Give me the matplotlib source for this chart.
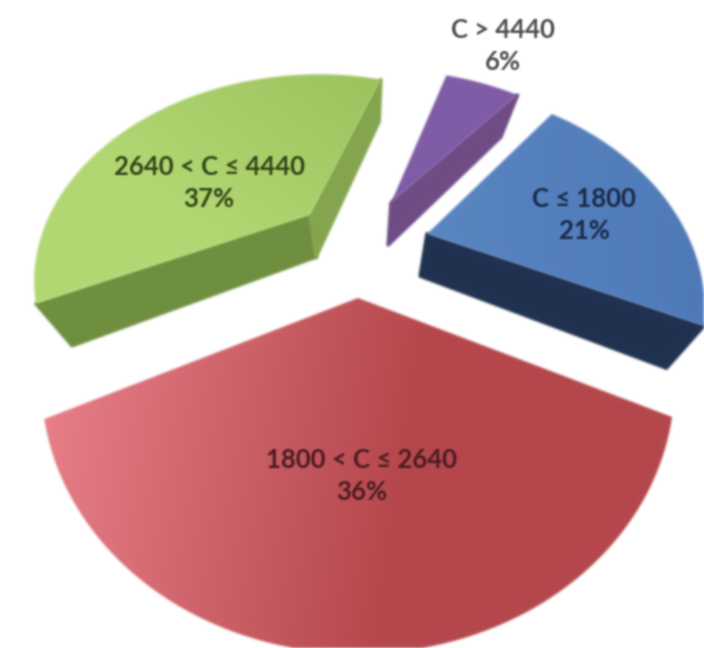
import numpy as np
import matplotlib
matplotlib.use("Agg")
from matplotlib import pyplot as plt
from matplotlib.colors import to_rgb
from matplotlib.patches import Polygon

plt.rcParams['font.family'] = ['Lato', 'DejaVu Sans']

# clockwise from the blue slice
labels = ["C ≤ 1800", "1800 < C ≤ 2640", "2640 < C ≤ 4440", "C > 4440"]
shares = [21, 36, 37, 6]

START_ANGLE = 39.4
W, H = 704, 648
# perspective of the pie plane
OX, OY, SX, SY, K = 365.0, 264.0, 288.0, 236.0, 0.3
DEPTH, SHRINK = 42.0, 0.11

apex = [(427, 234), (358, 298), (310, 215), (391, 203)]
scale_x = [0.915, 1.0, 0.94, 0.92]
scale_y = [0.83, 0.95, 0.83, 0.8]
explode = [0.2, 0.14, 0.2, 0.2]
top_light = [("#5a86c2", "#4f7ab8"), ("#ee8590", "#b5474c"), ("#b2d873", "#95ba56"), ("#7f5ca6", "#7f5ca6")]
grad_dir = [(1, 0), (1, 0.15), (0.6, -0.8), (1, 0)]
grad_span = [(420, 704), (60, 480), (-60, 250), (390, 520)]
side_col = ["#20324f", None, "#6f8f3f", "#6f4d85"]
side2_col = [None, None, "#85a64e", None]
text_pos = [(584, 215), (362, 476), (209, 183), (503, 46)]
text_col = ["#1b2a48", "#4a1d22", "#33461a", "#4d4d4d"]


def smooth(img, sigma):
    pad = 6
    x = np.arange(-pad, pad + 1)
    g = np.exp(-x ** 2 / (2 * sigma ** 2))
    g = g / g.sum()
    out = np.zeros((img.shape[0] + 2 * pad, img.shape[1] + 2 * pad, img.shape[2]))
    out[pad:-pad, pad:-pad] = img
    # blur colour weighted by alpha, otherwise the edges get a pale fringe
    out[..., :3] = out[..., :3] * out[..., 3:]
    out = np.apply_along_axis(lambda m: np.convolve(m, g, mode='same'), 0, out)
    out = np.apply_along_axis(lambda m: np.convolve(m, g, mode='same'), 1, out)
    a = np.maximum(out[..., 3:], 1e-4)
    out[..., :3] = np.clip(out[..., :3] / a, 0, 1)
    return out, -pad, -pad


def blur(img, dpi):
    # soft look of the scan
    return smooth(img, 1.2)


def blurText(img, dpi):
    return smooth(img, 0.9)


def project(u, v):
    w = 1 + K * v
    return OX + SX * u / w, OY - SY * v / w


def wedgeTop(a0, a1, target, e, sx, sy):
    mid = np.radians((a0 + a1) / 2)
    du, dv = e * np.sin(mid), e * np.cos(mid)
    t = np.radians(np.linspace(a0, a1, 80))
    x, y = project(du + np.sin(t), dv + np.cos(t))
    x0, y0 = project(du, dv)
    x = target[0] + sx * (x - x0)
    y = target[1] + sy * (y - y0)
    return np.column_stack([np.r_[target[0], x], np.r_[target[1], y]])


def toBase(pts):
    # the bottom of a slice is pulled towards the middle of the pie
    return np.column_stack([pts[:, 0] + (OX - pts[:, 0]) * SHRINK, pts[:, 1] + DEPTH])


def addSide(ax, top, base, end, col):
    # stroke in the same colour runs under the top face, no white seam after the blur
    p = Polygon([top[0], top[end], base[end], base[0]], closed=True, fc=col, ec=col,
                lw=2.5, joinstyle='round', zorder=2)
    p.set_agg_filter(blur)
    ax.add_patch(p)


def gradient(ax, pts, cols, direction, span):
    xx, yy = np.meshgrid(np.arange(W) + 0.5, np.arange(H) + 0.5)
    t = (xx * direction[0] + yy * direction[1] - span[0]) / (span[1] - span[0])
    t = np.clip(t, 0, 1)[..., None]
    img = (1 - t) * np.array(to_rgb(cols[0])) + t * np.array(to_rgb(cols[1]))
    im = ax.imshow(img, extent=(0, W, H, 0), aspect='auto', zorder=3)
    im.set_clip_path(Polygon(pts, closed=True, transform=ax.transData))
    im.set_agg_filter(blur)


fig = plt.figure(figsize=(W / 100, H / 100), dpi=100)
ax = fig.add_axes([0, 0, 1, 1])

angle = START_ANGLE
for i in range(len(shares)):
    sweep = shares[i] * 3.6
    top = wedgeTop(angle, angle + sweep, apex[i], explode[i], scale_x[i], scale_y[i])
    base = toBase(top)

    if side_col[i] is not None:
        # green shows the edge at its far end, the others the near end
        addSide(ax, top, base, 1 if i == 2 else -1, side_col[i])
    if side2_col[i] is not None:
        addSide(ax, top, base, -1, side2_col[i])

    gradient(ax, top, top_light[i], grad_dir[i], grad_span[i])
    angle += sweep

for i in range(len(shares)):
    txt = ax.text(text_pos[i][0], text_pos[i][1], "%s\n%d%%" % (labels[i], shares[i]),
                  ha='center', va='center', fontsize=18.5, fontweight='bold', color=text_col[i],
                  linespacing=1.42, zorder=5)
    txt.set_agg_filter(blurText)

ax.set_xlim(0, W)
ax.set_ylim(H, 0)
ax.axis('off')
fig.savefig('out.png', dpi=100)
